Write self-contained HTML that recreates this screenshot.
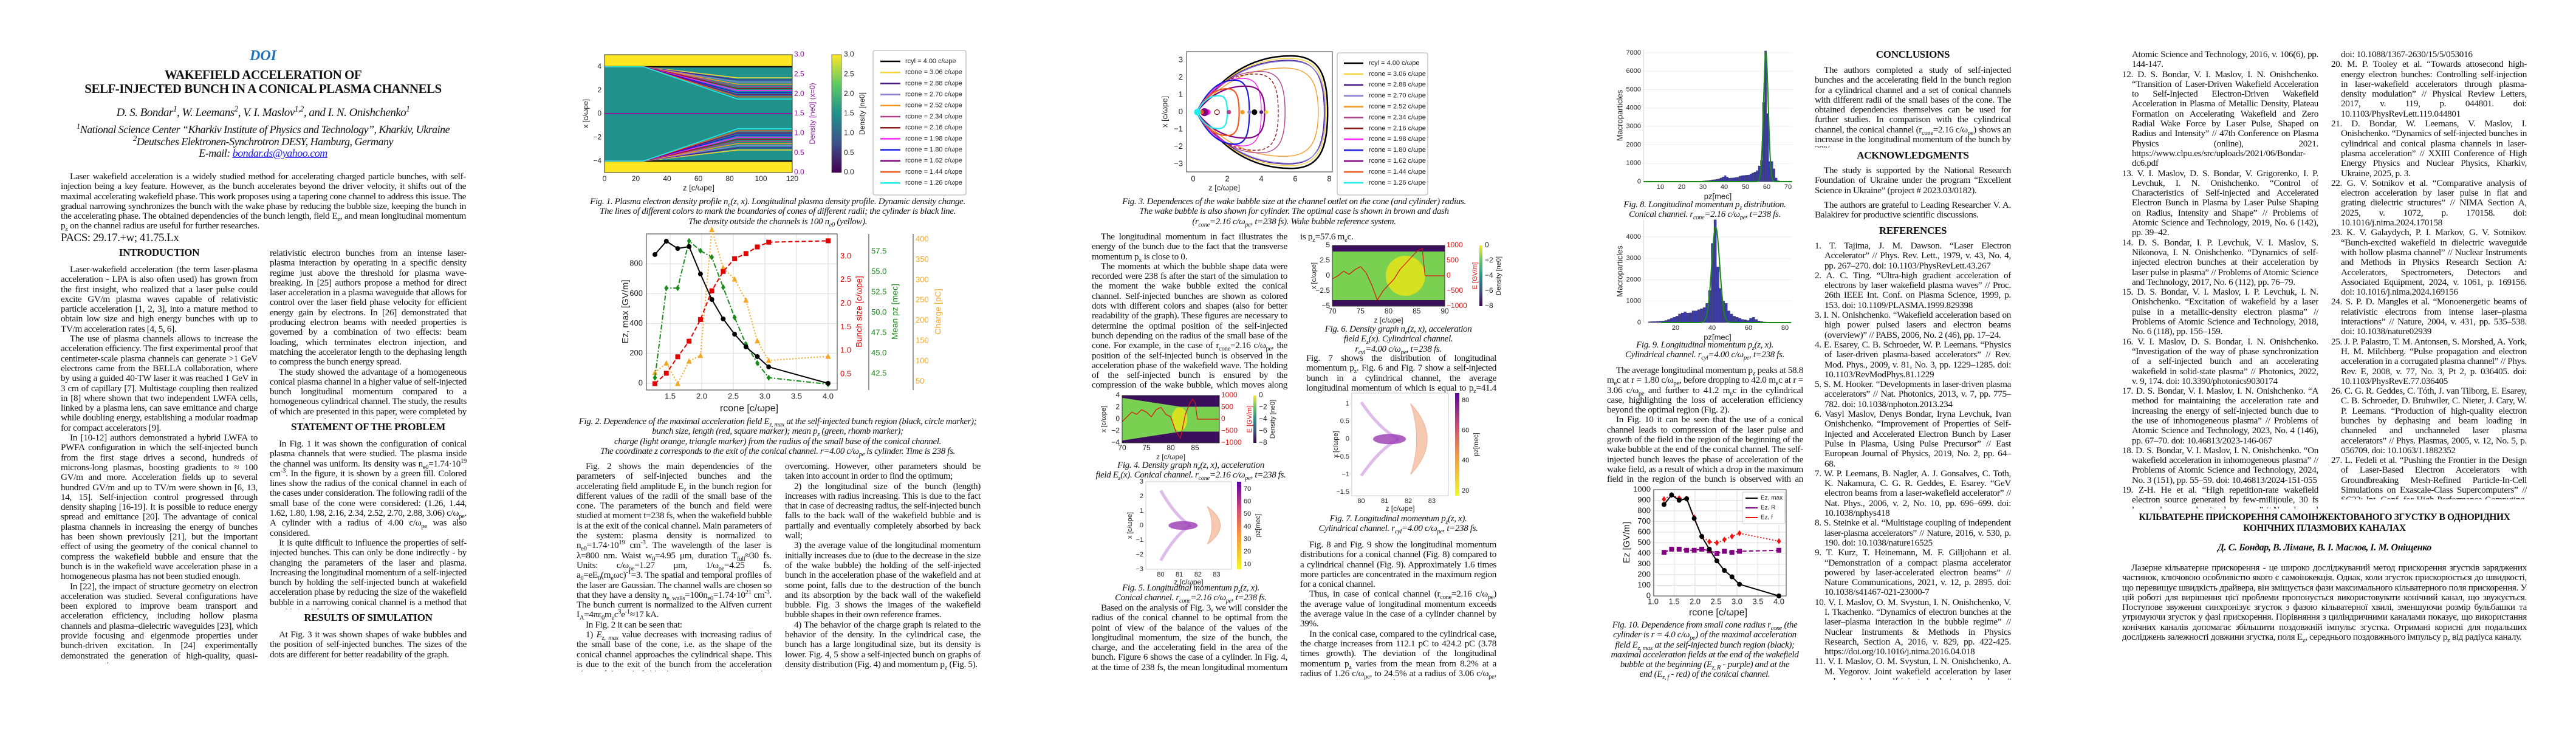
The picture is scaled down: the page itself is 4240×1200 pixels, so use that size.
<!DOCTYPE html>
<html><head><meta charset="utf-8">
<style>
html,body{margin:0;padding:0;background:#fff;}
body{width:4240px;height:1200px;position:relative;overflow:hidden;font-family:"Liberation Serif",serif;color:#111;}
.t{position:absolute;font-size:15.2px;line-height:16.3px;text-align:justify;letter-spacing:-0.33px;overflow:hidden;}
.t p{margin:0;text-indent:15px;}
.h{position:absolute;font-weight:bold;font-size:17px;text-align:center;letter-spacing:-0.3px;}
.cap{position:absolute;font-style:italic;font-size:15px;line-height:16.3px;text-align:center;letter-spacing:-0.35px;white-space:nowrap;}
.ref p{text-indent:-16px;padding-left:16px;}
sub,sup{font-size:70%;line-height:0;}
svg text{font-family:"Liberation Sans",sans-serif;}
</style></head><body>

<div style="position:absolute;left:233px;width:400px;top:79px;text-align:center;font-style:italic;font-weight:bold;font-size:24px;color:#1f6fb5;">DOI</div>
<div style="position:absolute;left:83px;width:700px;top:112px;text-align:center;font-weight:bold;font-size:21px;line-height:23px;letter-spacing:-0.5px;">WAKEFIELD ACCELERATION OF<br>SELF-INJECTED BUNCH IN A CONICAL PLASMA CHANNELS</div>
<div style="position:absolute;left:83px;width:700px;top:175px;text-align:center;font-style:italic;font-size:19px;letter-spacing:-0.5px;">D. S. Bondar<sup>1</sup>, W. Leemans<sup>2</sup>, V. I. Maslov<sup>1,2</sup>, and I. N. Onishchenko<sup>1</sup></div>
<div style="position:absolute;left:63px;width:740px;top:204px;text-align:center;font-style:italic;font-size:18px;line-height:19.5px;letter-spacing:-0.5px;"><sup>1</sup>National Science Center “Kharkiv Institute of Physics and Technology”, Kharkiv, Ukraine<br><sup>2</sup>Deutsches Elektronen-Synchrotron DESY, Hamburg, Germany<br>E-mail: <span style="color:#1a1aee;text-decoration:underline;">bondar.ds@yahoo.com</span></div>

<div class="t" style="left:100px;width:667px;top:283px;height:100px;"><p>Laser wakefield acceleration is a widely studied method for accelerating charged particle bunches, with self-injection being a key feature. However, as the bunch accelerates beyond the driver velocity, it shifts out of the maximal accelerating wakefield phase. This work proposes using a tapering cone channel to address this issue. The gradual narrowing synchronizes the bunch with the wake phase by reducing the bubble size, keeping the bunch in the accelerating phase. The obtained dependencies of the bunch length, field E<sub>z</sub>, and mean longitudinal momentum p<sub>z</sub> on the channel radius are useful for further researches.</p></div>
<div style="position:absolute;left:100px;top:381px;font-size:19px;letter-spacing:-0.5px;">PACS: 29.17.+w; 41.75.Lx</div>

<div class="h" style="left:100px;width:324px;top:406px;">INTRODUCTION</div>
<div class="t" style="left:100px;width:324px;top:436px;height:656px;">
<p>Laser-wakefield acceleration (the term laser-plasma acceleration - LPA is also often used) has grown from the first insight, who realized that a laser pulse could excite GV/m plasma waves capable of relativistic particle acceleration [1, 2, 3], into a mature method to obtain low size and high energy bunches with up to TV/m acceleration rates [4, 5, 6].</p>
<p>The use of plasma channels allows to increase the acceleration efficiency. The first experimental proof that centimeter-scale plasma channels can generate &gt;1 GeV electrons came from the BELLA collaboration, where by using a guided 40-TW laser it was reached 1 GeV in 3 cm of capillary [7]. Multistage coupling then realized in [8] where shown that two independent LWFA cells, linked by a plasma lens, can save emittance and charge while doubling energy, establishing a modular roadmap for compact accelerators [9].</p>
<p>In [10-12] authors demonstrated a hybrid LWFA to PWFA configuration in which the self-injected bunch from the first stage drives a second, hundreds of microns-long plasmas, boosting gradients to ≈ 100 GV/m and more. Acceleration fields up to several hundred GV/m and up to TV/m were shown in [6, 13, 14, 15]. Self-injection control progressed through density shaping [16-19]. It is possible to reduce energy spread and emittance [20]. The advantage of conical plasma channels in increasing the energy of bunches has been shown previously [21], but the important effect of using the geometry of the conical channel to compress the wakefield bubble and ensure that the bunch is in the wakefield wave acceleration phase in a homogeneous plasma has not been studied enough.</p>
<p>In [22], the impact of structure geometry on electron acceleration was studied. Several configurations have been explored to improve beam transport and acceleration efficiency, including hollow plasma channels and plasma–dielectric waveguides [23], which provide focusing and eigenmode properties under bunch-driven excitation. In [24] experimentally demonstrated the generation of high-quality, quasi-monoenergetic</p></div>

<div class="t" style="left:444px;width:324px;top:409px;height:280px;">
<p style="text-indent:0">relativistic electron bunches from an intense laser-plasma interaction by operating in a specific density regime just above the threshold for plasma wave-breaking. In [25] authors propose a method for direct laser acceleration in a plasma waveguide that allows for control over the laser field phase velocity for efficient energy gain by electrons. In [26] demonstrated that producing electron beams with needed properties is governed by a combination of two effects: beam loading, which terminates electron injection, and matching the accelerator length to the dephasing length to compress the bunch energy spread.</p>
<p>The study showed the advantage of a homogeneous conical plasma channel in a higher value of self-injected bunch longitudinal momentum compared to a homogeneous cylindrical channel. The study, the results of which are presented in this paper, were completed by numerical simulations using the code WarpX [27].</p></div>
<div class="h" style="left:444px;width:324px;top:693px;">STATEMENT OF THE PROBLEM</div>
<div class="t" style="left:444px;width:324px;top:723px;height:280px;">
<p>In Fig. 1 it was shown the configuration of conical plasma channels that were studied. The plasma inside the channel was uniform. Its density was n<sub>e0</sub>=1.74·10<sup>19</sup> cm<sup>-3</sup>. In the figure, it is shown by a green fill. Colored lines show the radius of the conical channel in each of the cases under consideration. The following radii of the small base of the cone were considered: (1.26, 1.44, 1.62, 1.80, 1.98, 2.16, 2.34, 2.52, 2.70, 2.88, 3.06) c/ω<sub>pe</sub>. A cylinder with a radius of 4.00 c/ω<sub>pe</sub> was also considered.</p>
<p>It is quite difficult to influence the properties of self-injected bunches. This can only be done indirectly - by changing the parameters of the laser and plasma. Increasing the longitudinal momentum of a self-injected bunch by holding the self-injected bunch at wakefield acceleration phase by reducing the size of the wakefield bubble in a narrowing conical channel is a method that would simplify the experiment.</p></div>
<div class="h" style="left:444px;width:324px;top:1007px;">RESULTS OF SIMULATION</div>
<div class="t" style="left:444px;width:324px;top:1037px;height:60px;">
<p>At Fig. 3 it was shown shapes of wake bubbles and the position of self-injected bunches. The sizes of the dots are different for better readability of the graph.</p></div>

<div class="cap" style="left:940px;width:680px;top:324px;">Fig. 1. Plasma electron density profile n<sub>e</sub>(z, x). Longitudinal plasma density profile. Dynamic density change.<br>The lines of different colors to mark the boundaries of cones of different radii; the cylinder is black line.<br>The density outside the channels is 100 n<sub>e0</sub> (yellow).</div>
<div class="cap" style="left:930px;width:700px;top:686px;">Fig. 2. Dependence of the maximal acceleration field E<sub>z, max</sub> at the self-injected bunch region (black, circle marker);<br>bunch size, length (red, square marker); mean p<sub>z</sub> (green, rhomb marker);<br>charge (light orange, triangle marker) from the radius of the small base of the conical channel.<br>The coordinate z corresponds to the exit of the conical channel. r=4.00 c/ω<sub>pe</sub> is cylinder. Time is 238 fs.</div>

<div class="t" style="left:949px;width:321px;top:760px;height:345px;">
<p>Fig. 2 shows the main dependencies of the parameters of self-injected bunches and the accelerating field amplitude E<sub>z</sub> in the bunch region for different values of the radii of the small base of the cone. The parameters of the bunch and field were studied at moment t=238 fs, when the wakefield bubble is at the exit of the conical channel. Main parameters of the system: plasma density is normalized to n<sub>e0</sub>=1.74·10<sup>19</sup> cm<sup>-3</sup>. The wavelength of the laser is λ=800 nm. Waist w<sub>0</sub>=4.95 μm, duration T<sub>full</sub>≈30 fs. Units: c/ω<sub>pe</sub>=1.27 μm, 1/ω<sub>pe</sub>=4.25 fs. a<sub>0</sub>=eE<sub>0</sub>(m<sub>e</sub>ωc)<sup>-1</sup>=3. The spatial and temporal profiles of the laser are Gaussian. The channel walls are chosen so that they have a density n<sub>e, walls</sub>=100n<sub>e0</sub>=1.74·10<sup>21</sup> cm<sup>-3</sup>. The bunch current is normalized to the Alfven current I<sub>A</sub>=4πε<sub>0</sub>m<sub>e</sub>c<sup>3</sup>e<sup>-1</sup>≈17 kA.</p>
<p>In Fig. 2 it can be seen that:</p>
<p>1) <i>E<sub>z, max</sub></i> value decreases with increasing radius of the small base of the cone, i.e. as the shape of the conical channel approaches the cylindrical shape. This is due to the exit of the bunch from the acceleration phase of the wakefield - the main negative process that we are</p></div>
<div class="t" style="left:1292px;width:322px;top:760px;height:345px;">
<p style="text-indent:0">overcoming. However, other parameters should be taken into account in order to find the optimum;</p>
<p>2) the longitudinal size of the bunch (length) increases with radius increasing. This is due to the fact that in case of decreasing radius, the self-injected bunch falls to the back wall of the wakefield bubble and is partially and eventually completely absorbed by back wall;</p>
<p>3) the average value of the longitudinal momentum initially increases due to (due to the decrease in the size of the wake bubble) the holding of the self-injected bunch in the acceleration phase of the wakefield and at some point, falls due to the destruction of the bunch and its absorption by the back wall of the wakefield bubble. Fig. 3 shows the images of the wakefield bubble shapes in their own reference frames.</p>
<p>4) The behavior of the charge graph is related to the behavior of the density. In the cylindrical case, the bunch has a large longitudinal size, but its density is lower. Fig. 4, 5 show a self-injected bunch on graphs of density distribution (Fig. 4) and momentum p<sub>z</sub> (Fig. 5).</p></div>

<div class="cap" style="left:1830px;width:600px;top:324px;">Fig. 3. Dependences of the wake bubble size at the channel outlet on the cone (and cylinder) radius.<br>The wake bubble is also shown for cylinder. The optimal case is shown in brown and dash<br>(r<sub>cone</sub>=2.16 c/ω<sub>pe</sub>, t=238 fs). Wake bubble reference system.</div>
<div class="t" style="left:1797px;width:322px;top:382px;height:262px;">
<p>The longitudinal momentum in fact illustrates the energy of the bunch due to the fact that the transverse momentum p<sub>x</sub> is close to 0.</p>
<p>The moments at which the bubble shape data were recorded were 238 fs after the start of the simulation to the moment the wake bubble exited the conical channel. Self-injected bunches are shown as colored dots with different colors and shapes (also for better readability of the graph). These figures are necessary to determine the optimal position of the self-injected bunch depending on the radius of the small base of the cone. For example, in the case of r<sub>cone</sub>=2.16 c/ω<sub>pe</sub>, the position of the self-injected bunch is observed in the acceleration phase of the wakefield wave. The holding of the self-injected bunch is ensured by the compression of the wake bubble, which moves along the conical channel.</p></div>
<div class="cap" style="left:1800px;width:320px;top:758px;">Fig. 4. Density graph n<sub>e</sub>(z, x), acceleration<br>field E<sub>z</sub>(x). Conical channel. r<sub>cone</sub>=2.16 c/ω<sub>pe</sub>, t=238 fs.</div>
<div class="cap" style="left:1800px;width:320px;top:960px;">Fig. 5. Longitudinal momentum p<sub>z</sub>(z, x).<br>Conical channel. r<sub>cone</sub>=2.16 c/ω<sub>pe</sub>, t=238 fs.</div>
<div class="t" style="left:1797px;width:322px;top:993px;height:115px;">
<p>Based on the analysis of Fig. 3, we will consider the radius of the conical channel to be optimal from the point of view of the balance of the values of the longitudinal momentum, the size of the bunch, the charge, and the accelerating field in the area of the bunch. Figure 6 shows the case of a cylinder. In Fig. 4, at the time of 238 fs, the mean longitudinal momentum of the self-injected bunch</p></div>

<div class="t" style="left:2140px;width:323px;top:382px;height:20px;"><p style="text-indent:0">is p<sub>z</sub>=57.6 m<sub>e</sub>c.</p></div>
<div class="cap" style="left:2140px;width:323px;top:534px;">Fig. 6. Density graph n<sub>e</sub>(z, x), acceleration<br>field E<sub>z</sub>(x). Cylindrical channel.<br>r<sub>cyl</sub>=4.00 c/ω<sub>pe</sub>, t=238 fs.</div>
<div class="t" style="left:2150px;width:313px;top:582px;height:66px;">
<p style="text-indent:0">Fig. 7 shows the distribution of longitudinal momentum p<sub>z</sub>. Fig. 6 and Fig. 7 show a self-injected bunch in a cylindrical channel, the average longitudinal momentum of which is equal to p<sub>z</sub>=41.4 m<sub>e</sub>c.</p></div>
<div class="cap" style="left:2140px;width:323px;top:846px;">Fig. 7. Longitudinal momentum p<sub>z</sub>(z, x).<br>Cylindrical channel. r<sub>cyl</sub>=4.00 c/ω<sub>pe</sub>, t=238 fs.</div>
<div class="t" style="left:2140px;width:323px;top:889px;height:230px;">
<p>Fig. 8 and Fig. 9 show the longitudinal momentum distributions for a conical channel (Fig. 8) compared to a cylindrical channel (Fig. 9). Approximately 1.6 times more particles are concentrated in the maximum region for a conical channel.</p>
<p>Thus, in case of conical channel (r<sub>cone</sub>=2.16 c/ω<sub>pe</sub>) the average value of longitudinal momentum exceeds the average value in the case of a cylinder channel by 39%.</p>
<p>In the conical case, compared to the cylindrical case, the charge increases from 112.1 pC to 424.2 pC (3.78 times growth). The deviation of the longitudinal momentum p<sub>z</sub> varies from the mean from 8.2% at a radius of 1.26 c/ω<sub>pe</sub>, to 24.5% at a radius of 3.06 c/ω<sub>pe</sub>, and to 21.2% in the case of a cylinder (r=4.00 c/ω<sub>pe</sub>).</p></div>

<div class="cap" style="left:2646px;width:320px;top:329px;">Fig. 8. Longitudinal momentum p<sub>z</sub> distribution.<br>Conical channel. r<sub>cone</sub>=2.16 c/ω<sub>pe</sub>, t=238 fs.</div>
<div class="cap" style="left:2646px;width:320px;top:560px;">Fig. 9. Longitudinal momentum p<sub>z</sub>(z, x).<br>Cylindrical channel. r<sub>cyl</sub>=4.00 c/ω<sub>pe</sub>, t=238 fs.</div>
<div class="t" style="left:2645px;width:323px;top:602px;height:196px;">
<p>The average longitudinal momentum p<sub>z</sub> peaks at 58.8 m<sub>e</sub>c at r = 1.80 c/ω<sub>pe</sub>, before dropping to 42.0 m<sub>e</sub>c at r = 3.06 c/ω<sub>pe</sub> and further to 41.2 m<sub>e</sub>c in the cylindrical case, highlighting the loss of acceleration efficiency beyond the optimal region (Fig. 2).</p>
<p>In Fig. 10 it can be seen that the use of a conical channel leads to compression of the laser pulse and growth of the field in the region of the beginning of the wake bubble at the end of the conical channel. The self-injected bunch leaves the phase of acceleration of the wake field, as a result of which a drop in the maximum field in the region of the bunch is observed with an increase in radius.</p></div>
<div class="cap" style="left:2636px;width:340px;top:1021px;">Fig. 10. Dependence from small cone radius r<sub>cone</sub> (the<br>cylinder is r = 4.0 c/ω<sub>pe</sub>) of the maximal acceleration<br>field E<sub>z, max</sub> at the self-injected bunch region (black);<br>maximal acceleration fields at the end of the wakefield<br>bubble at the beginning (E<sub>z, R</sub> - purple) and at the<br>end (E<sub>z, f</sub> - red) of the conical channel.</div>

<div class="h" style="left:2987px;width:323px;top:80px;">CONCLUSIONS</div>
<div class="t" style="left:2987px;width:323px;top:108px;height:135px;">
<p>The authors completed a study of self-injected bunches and the accelerating field in the bunch region for a cylindrical channel and a set of conical channels with different radii of the small bases of the cone. The obtained dependencies themselves can be used for further studies. In comparison with the cylindrical channel, the conical channel (r<sub>cone</sub>=2.16 c/ω<sub>pe</sub>) shows an increase in the longitudinal momentum of the bunch by 39%.</p></div>
<div class="h" style="left:2987px;width:323px;top:246px;">ACKNOWLEDGMENTS</div>
<div class="t" style="left:2987px;width:323px;top:273px;height:95px;">
<p>The study is supported by the National Research Foundation of Ukraine under the program “Excellent Science in Ukraine” (project # 2023.03/0182).</p>
<p style="margin-top:8px">The authors are grateful to Leading Researcher V. A. Balakirev for productive scientific discussions.</p></div>
<div class="h" style="left:2987px;width:323px;top:370px;">REFERENCES</div>
<div class="t ref" style="left:2987px;width:323px;top:397px;height:722px;">
<p>1. T. Tajima, J. M. Dawson. “Laser Electron Accelerator” // Phys. Rev. Lett., 1979, v. 43, No. 4, pp. 267–270. doi: 10.1103/PhysRevLett.43.267</p>
<p>2. A. C. Ting. “Ultra-high gradient acceleration of electrons by laser wakefield plasma waves” // Proc. 26th IEEE Int. Conf. on Plasma Science, 1999, p. 153. doi: 10.1109/PLASMA.1999.829398</p>
<p>3. I. N. Onishchenko. “Wakefield acceleration based on high power pulsed lasers and electron beams (overview)” // PABS, 2006, No. 2 (46), pp. 17–24.</p>
<p>4. E. Esarey, C. B. Schroeder, W. P. Leemans. “Physics of laser-driven plasma-based accelerators” // Rev. Mod. Phys., 2009, v. 81, No. 3, pp. 1229–1285. doi: 10.1103/RevModPhys.81.1229</p>
<p>5. S. M. Hooker. “Developments in laser-driven plasma accelerators” // Nat. Photonics, 2013, v. 7, pp. 775–782. doi: 10.1038/nphoton.2013.234</p>
<p>6. Vasyl Maslov, Denys Bondar, Iryna Levchuk, Ivan Onishchenko. “Improvement of Properties of Self-Injected and Accelerated Electron Bunch by Laser Pulse in Plasma, Using Pulse Precursor” // East European Journal of Physics, 2019, No. 2, pp. 64–68.</p>
<p>7. W. P. Leemans, B. Nagler, A. J. Gonsalves, C. Toth, K. Nakamura, C. G. R. Geddes, E. Esarey. “GeV electron beams from a laser-wakefield accelerator” // Nat. Phys., 2006, v. 2, No. 10, pp. 696–699. doi: 10.1038/nphys418</p>
<p>8. S. Steinke et al. “Multistage coupling of independent laser-plasma accelerators” // Nature, 2016, v. 530, p. 190. doi: 10.1038/nature16525</p>
<p>9. T. Kurz, T. Heinemann, M. F. Gilljohann et al. “Demonstration of a compact plasma accelerator powered by laser-accelerated electron beams” // Nature Communications, 2021, v. 12, p. 2895. doi: 10.1038/s41467-021-23000-7</p>
<p>10. V. I. Maslov, O. M. Svystun, I. N. Onishchenko, V. I. Tkachenko. “Dynamics of electron bunches at the laser–plasma interaction in the bubble regime” // Nuclear Instruments &amp; Methods in Physics Research, Section A, 2016, v. 829, pp. 422-425. https://doi.org/10.1016/j.nima.2016.04.018</p>
<p>11. V. I. Maslov, O. M. Svystun, I. N. Onishchenko, A. M. Yegorov. Joint wakefield acceleration by laser pulse and by self-injected electron bunches // Problems of</p></div>
<div class="t ref" style="left:3493px;width:323px;top:82px;height:755px;">
<p style="text-indent:0">Atomic Science and Technology, 2016, v. 106(6), pp. 144-147.</p>
<p>12. D. S. Bondar, V. I. Maslov, I. N. Onishchenko. “Transition of Laser-Driven Wakefield Acceleration to Self-Injected Electron-Driven Wakefield Acceleration in Plasma of Metallic Density, Plateau Formation on Accelerating Wakefield and Zero Radial Wake Force by Laser Pulse, Shaped on Radius and Intensity” // 47th Conference on Plasma Physics (online), 2021. https://www.clpu.es/src/uploads/2021/06/Bondar-dc6.pdf</p>
<p>13. V. I. Maslov, D. S. Bondar, V. Grigorenko, I. P. Levchuk, I. N. Onishchenko. “Control of Characteristics of Self-injected and Accelerated Electron Bunch in Plasma by Laser Pulse Shaping on Radius, Intensity and Shape” // Problems of Atomic Science and Technology, 2019, No. 6 (142), pp. 39–42.</p>
<p>14. D. S. Bondar, I. P. Levchuk, V. I. Maslov, S. Nikonova, I. N. Onishchenko. “Dynamics of self-injected electron bunches at their acceleration by laser pulse in plasma” // Problems of Atomic Science and Technology, 2017, No. 6 (112), pp. 76–79.</p>
<p>15. D. S. Bondar, V. I. Maslov, I. P. Levchuk, I. N. Onishchenko. “Excitation of wakefield by a laser pulse in a metallic-density electron plasma” // Problems of Atomic Science and Technology, 2018, No. 6 (118), pp. 156–159.</p>
<p>16. V. I. Maslov, D. S. Bondar, I. N. Onishchenko. “Investigation of the way of phase synchronization of a self-injected bunch and an accelerating wakefield in solid-state plasma” // Photonics, 2022, v. 9, 174. doi: 10.3390/photonics9030174</p>
<p>17. D. S. Bondar, V. I. Maslov, I. N. Onishchenko. “A method for maintaining the acceleration rate and increasing the energy of self-injected bunch due to the use of inhomogeneous plasma” // Problems of Atomic Science and Technology, 2023, No. 4 (146), pp. 67–70. doi: 10.46813/2023-146-067</p>
<p>18. D. S. Bondar, V. I. Maslov, I. N. Onishchenko. “On wakefield acceleration in inhomogeneous plasma” // Problems of Atomic Science and Technology, 2024, No. 3 (151), pp. 55–59. doi: 10.46813/2024-151-055</p>
<p>19. Z-H. He et al. “High repetition-rate wakefield electron source generated by few-millijoule, 30 fs laser pulses on a density downramp” // New Journal of Physics, 2013, v. 15, p. 053016.</p></div>
<div class="t ref" style="left:3837px;width:322px;top:82px;height:740px;">
<p style="text-indent:0">doi: 10.1088/1367-2630/15/5/053016</p>
<p>20. M. P. Tooley et al. “Towards attosecond high-energy electron bunches: Controlling self-injection in laser-wakefield accelerators through plasma-density modulation” // Physical Review Letters, 2017, v. 119, p. 044801. doi: 10.1103/PhysRevLett.119.044801</p>
<p>21. D. Bondar, W. Leemans, V. Maslov, I. Onishchenko. “Dynamics of self-injected bunches in cylindrical and conical plasma channels in laser-plasma acceleration” // XXIII Conference of High Energy Physics and Nuclear Physics, Kharkiv, Ukraine, 2025, p. 3.</p>
<p>22. G. V. Sotnikov et al. “Comparative analysis of electron acceleration by laser pulse in flat and grating dielectric structures” // NIMA Section A, 2025, v. 1072, p. 170158. doi: 10.1016/j.nima.2024.170158</p>
<p>23. K. V. Galaydych, P. I. Markov, G. V. Sotnikov. “Bunch-excited wakefield in dielectric waveguide with hollow plasma channel” // Nuclear Instruments and Methods in Physics Research Section A: Accelerators, Spectrometers, Detectors and Associated Equipment, 2024, v. 1061, p. 169156. doi: 10.1016/j.nima.2024.169156</p>
<p>24. S. P. D. Mangles et al. “Monoenergetic beams of relativistic electrons from intense laser–plasma interactions” // Nature, 2004, v. 431, pp. 535–538. doi: 10.1038/nature02939</p>
<p>25. J. P. Palastro, T. M. Antonsen, S. Morshed, A. York, H. M. Milchberg. “Pulse propagation and electron acceleration in a corrugated plasma channel” // Phys. Rev. E, 2008, v. 77, No. 3, Pt 2, p. 036405. doi: 10.1103/PhysRevE.77.036405</p>
<p>26. C. G. R. Geddes, C. Tóth, J. van Tilborg, E. Esarey, C. B. Schroeder, D. Bruhwiler, C. Nieter, J. Cary, W. P. Leemans. “Production of high-quality electron bunches by dephasing and beam loading in channeled and unchanneled laser plasma accelerators” // Phys. Plasmas, 2005, v. 12, No. 5, p. 056709. doi: 10.1063/1.1882352</p>
<p>27. L. Fedeli et al. “Pushing the Frontier in the Design of Laser-Based Electron Accelerators with Groundbreaking Mesh-Refined Particle-In-Cell Simulations on Exascale-Class Supercomputers” // SC22: Int. Conf. for High Performance Computing, Networking, Storage and Analysis, Dallas, TX, USA, 2022, pp. 25–36. doi: 10.1109/SC41404.2022.00008</p></div>

<div style="position:absolute;left:3493px;width:666px;top:843px;text-align:center;font-weight:bold;font-size:15.5px;line-height:18px;letter-spacing:-0.4px;font-family:'Liberation Serif','Noto Serif CJK SC',serif;">КІЛЬВАТЕРНЕ ПРИСКОРЕННЯ САМОІНЖЕКТОВАНОГО ЗГУСТКУ В ОДНОРІДНИХ<br>КОНІЧНИХ ПЛАЗМОВИХ КАНАЛАХ</div>
<div style="position:absolute;left:3493px;width:666px;top:893px;text-align:center;font-weight:bold;font-style:italic;font-size:16px;letter-spacing:-0.4px;">Д. С. Бондар, В. Лімане, В. І. Маслов, І. М. Оніщенко</div>
<div class="t" style="left:3493px;width:666px;top:927px;height:135px;">
<p>Лазерне кільватерне прискорення - це широко досліджуваний метод прискорення згустків заряджених частинок, ключовою особливістю якого є самоінжекція. Однак, коли згусток прискорюється до швидкості, що перевищує швидкість драйвера, він зміщується фази максимального кільватерного поля прискорення. У цій роботі для вирішення цієї проблеми пропонується використовувати конічний канал, що звужується. Поступове звуження синхронізує згусток з фазою кільватерної хвилі, зменшуючи розмір бульбашки та утримуючи згусток у фазі прискорення. Порівняння з циліндричними каналами показує, що використання конічних каналів допомагає збільшити поздовжній імпульс згустка. Отримані корисні для подальших досліджень залежності довжини згустка, поля E<sub>z</sub>, середнього поздовжнього імпульсу p<sub>z</sub> від радіуса каналу.</p></div>

<svg id="figs" width="4240" height="1200" style="position:absolute;left:0;top:0;" xmlns="http://www.w3.org/2000/svg"></svg>

<script>
// ---------- data ----------
const f2R=[1.26,1.44,1.62,1.80,1.98,2.16,2.34,2.52,2.70,2.88,3.06,4.00];
const f2Ez=[862,951,902,915,732,561,431,329,244,179,110,0];
const f2Size=[0.30,0.52,0.87,1.20,1.66,2.27,2.68,2.95,3.06,3.20,3.30,3.33];
const f2Pz=[42.0,53.0,53.0,58.8,57.6,56.8,53.1,49.4,46.1,43.8,42.0,41.2];
const f2Charge=[72,95,45,100,114,424,330,302,250,150,102,112];
const f2XTicks=[1.5,2.0,2.5,3.0,3.5,4.0];
const f2EzTicks=[0,200,400,600,800];
const f2SizeTicks=[0.5,1.0,1.5,2.0,2.5,3.0];
const f2PzTicks=[42.5,45.0,47.5,50.0,52.5,55.0,57.5];
const f2ChargeTicks=[50,100,150,200,250,300,350,400];

const f10R=[1.26,1.44,1.62,1.80,1.98,2.16,2.34,2.52,2.70,2.88,3.06,4.00];
const f10Emax=[860,950,900,915,730,560,440,330,240,180,110,0];
const f10ER=[410,440,440,430,430,440,425,400,420,410,420,430];
const f10Ef=[910,950,920,915,740,560,510,500,530,560,590,515];
const f10XTicks=[1.0,1.5,2.0,2.5,3.0,3.5,4.0];
const f10YTicks=[0,100,200,300,400,500,600,700,800,900,1000];

const f8BinStart=[26,27,28,29,30,31,32,33,34,35,36,37,38,39,40,41,42,43,44,45,46,47,48,49,50,51,52,53,54,55,56,57,58,59,60,61,62,63,64,65];
const f8Counts=[10,15,20,30,40,50,60,80,100,110,130,150,200,260,330,250,190,200,210,230,240,300,330,340,350,360,420,470,520,600,850,1150,4300,7100,3700,1100,1100,700,200,50];
const f8Fit=[7000,59.6,1.1];
const f8XTicks=[10,20,30,40,50,60,70];
const f8YTicks=[0,1000,2000,3000,4000,5000,6000,7000];

const f9BinStart=[5,6.5,8,9.5,11,12.5,14,15.5,17,18.5,20,21.5,23,24.5,26,27.5,29,30.5,32,33.5,35,36.5,38,39.5,41,42.5,44,45.5,47,48.5,50,51.5,53,54.5,56,57.5,59,60.5,62,63.5,65,66.5,68,69.5];
const f9Counts=[40,50,50,60,70,80,100,150,200,250,300,400,450,500,450,460,550,550,600,650,700,900,1500,3700,4800,2600,1600,1000,900,550,400,300,250,200,150,130,100,200,250,150,80,50,30,20];
const f9Fit=[4450,42.0,2.2];
const f9XTicks=[20,40,60,80];
const f9YTicks=[0,1000,2000,3000,4000];

const f1Radii=[4.00,3.06,2.88,2.70,2.52,2.34,2.16,1.98,1.80,1.62,1.44,1.26];
const f1ConeStart=25, f1ConeEnd=85, f1ZMax=120;
const f1AxisDensity=1.5;
const f1XTicks=[0,20,40,60,80,100,120];
const f1YTicks=[-4,-2,0,2,4];
const f1DensTicks=[0.0,0.5,1.0,1.5,2.0,2.5,3.0];
const lineColors=["#000000","#f7d53a","#4b1a8c","#8a7fd6","#f59a23","#b0408a","#8b1a1a","#ff22ff","#1a1adb","#800080","#f05a1e","#22eeee"];

const f3Len=[7.9,7.8,7.7,7.75,7.35,5.4,5.0,4.0,3.3,4.2,2.7,2.0];
const f3Half=[3.25,3.1,3.0,2.95,2.55,2.35,2.2,1.95,1.85,1.5,1.35,0.95];
const f3Dot=[3.6,4.3,4.0,3.3,2.9,2.1,1.4,0.86,0.6,0.66,0.5,0.25];
const f3XTicks=[0,2,4,6,8];
const f3YTicks=[-3,-2,-1,0,1,2,3];

const f4Z=[70,71,72,73,74,75,76,77,78,79,80,80.5,81,82,83,84,84.5,85,85.5,86,87,88,90];
const f4E=[-100,100,300,200,400,300,100,400,500,200,100,-200,-500,-800,200,700,850,700,0,0,0,0,0];
const f6Z=[70,71,72,73,74,75,76,77,78,79,80,81,82,83,84,85,86,86.5,87,88,90];
const f6E=[-100,0,150,50,200,300,100,-300,-800,-500,-300,-100,200,400,600,800,900,0,0,0,0];

// ---------- helpers ----------
const NS='http://www.w3.org/2000/svg';
const S=document.getElementById('figs');
function mk(tag,a,p){const e=document.createElementNS(NS,tag);for(const k in a)e.setAttribute(k,a[k]);(p||S).appendChild(e);return e;}
function tx(x,y,s,size,anchor,fill,rot){const e=mk('text',{x:x,y:y,'font-size':size||12,'text-anchor':anchor||'middle',fill:fill||'#222','dominant-baseline':'middle'});if(rot)e.setAttribute('transform','rotate('+rot+' '+x+' '+y+')');e.textContent=s;return e;}
function pl(pts){return pts.map(p=>p[0].toFixed(1)+','+p[1].toFixed(1)).join(' ');}
function axesBox(x0,y0,x1,y1){return mk('rect',{x:x0,y:y0,width:x1-x0,height:y1-y0,fill:'none',stroke:'#333','stroke-width':1});}

const defs=mk('defs',{});
const vg=mk('linearGradient',{id:'viridis',x1:0,y1:1,x2:0,y2:0},defs);
[['0','#440154'],['0.25','#3b528b'],['0.5','#21918c'],['0.75','#5ec962'],['1','#fde725']].forEach(s=>mk('stop',{offset:s[0],'stop-color':s[1]},vg));
const pg=mk('linearGradient',{id:'plasma',x1:0,y1:1,x2:0,y2:0},defs);
[['0','#f0f921'],['0.4','#f89540'],['0.7','#cc4778'],['1','#5c01a6']].forEach(s=>mk('stop',{offset:s[0],'stop-color':s[1]},pg));

// ---------- Fig 1 ----------
{
const X=z=>995+z*2.575, Y=x=>187.5-x*19.4;
const bg=mk('rect',{x:995,y:90,width:309,height:194,fill:'#fde725'});


const ch=mk('rect',{x:995,y:Y(4),width:309,height:Y(-4)-Y(4),fill:'#21918c'});


f1Radii.forEach((r,i)=>{
  [1,-1].forEach(sg=>{
    const pts=i===0?[[X(0),Y(4*sg)],[X(f1ZMax),Y(4*sg)]]:[[X(0),Y(4*sg)],[X(f1ConeStart),Y(4*sg)],[X(f1ConeEnd),Y(r*sg)],[X(f1ZMax),Y(r*sg)]];
    const l=mk('polyline',{points:pl(pts),fill:'none',stroke:lineColors[i],'stroke-width':i===0?2.2:1.6});
    
    
  });
});
const DY=d=>284-d*64.67;
const dl=mk('line',{x1:995,x2:1304,y1:DY(f1AxisDensity),y2:DY(f1AxisDensity),stroke:'#8b1a9b','stroke-width':2});


axesBox(995,90,1304,284);
f1XTicks.forEach(v=>{tx(X(v),295,String(v),12);});
f1YTicks.forEach(v=>{tx(990,Y(v),String(v).replace('-','−'),12,'end');});
f1DensTicks.forEach(v=>{tx(1307,DY(v),v.toFixed(1),12,'start','#8b1a9b');});
tx(965,187,'x [c/ωpe]',12,'middle','#222',-90);
tx(1150,310,'z [c/ωpe]',13);
tx(1338,187,'Density [ne0] (x=0)',12,'middle','#8b1a9b',-90);
const cb=mk('rect',{x:1369,y:90,width:16,height:194,fill:'url(#viridis)',stroke:'#333','stroke-width':0.6});


f1DensTicks.forEach(v=>{tx(1389,DY(v),v.toFixed(1),12,'start');});
tx(1420,187,'Density [ne0]',12,'middle','#222',-90);
const lg=mk('rect',{x:1437,y:83,width:153,height:238,fill:'#fff',stroke:'#aaa','stroke-width':1,rx:3});


f1Radii.forEach((r,i)=>{const y=101+i*18.2;
  const s=mk('line',{x1:1449,x2:1482,y1:y,y2:y,stroke:lineColors[i],'stroke-width':2.5});
  
  
  tx(1490,y,(i===0?'rcyl':'rcone')+' = '+r.toFixed(2)+' c/ωpe',11,'start');});
}

// ---------- Fig 2 ----------
{
const X=v=>1103+(v-1.5)*104, YE=v=>631-v*0.246, YS=v=>422+(3-v)*77.6, YP=v=>414+(57.5-v)*13.4, YC=v=>394+(400-v)*0.6686;
f2XTicks.forEach(v=>{mk('line',{x1:X(v),x2:X(v),y1:385,y2:642,stroke:'#ddd'});tx(X(v),653,v.toFixed(1),13);});
f2EzTicks.forEach(v=>{mk('line',{x1:1064,x2:1378,y1:YE(v),y2:YE(v),stroke:'#ddd'});tx(1058,YE(v),String(v),13,'end');});
axesBox(1064,385,1378,642);
mk('line',{x1:1430,x2:1430,y1:385,y2:642,stroke:'#333'});
mk('line',{x1:1503,x2:1503,y1:385,y2:642,stroke:'#333'});
f2SizeTicks.forEach(v=>tx(1383,YS(v),v.toFixed(1),13,'start','#e00000'));
f2PzTicks.forEach(v=>tx(1434,YP(v),v.toFixed(1),13,'start','#1a8a1a'));
f2ChargeTicks.forEach(v=>tx(1507,YC(v),String(v),13,'start','#f5a623'));
tx(1030,513,'Ez, max [GV/m]',15,'middle','#222',-90);
tx(1415,513,'Bunch size [c/ωpe]',14,'middle','#e00000',-90);
tx(1474,513,'Mean pz [mec]',14,'middle','#1a8a1a',-90);
tx(1545,513,'Charge [pC]',14,'middle','#f5a623',-90);
tx(1233,673,'rcone [c/ωpe]',16);
function series(vals,Yf,col,dash,name,marker){
  const ln=mk('polyline',{points:pl(f2R.map((r,i)=>[X(r),Yf(vals[i])])),fill:'none',stroke:col,'stroke-width':2,'stroke-dasharray':dash});
  
  
  f2R.forEach((r,i)=>{const x=X(r),y=Yf(vals[i]);let m;
    if(marker==='c')m=mk('circle',{cx:x,cy:y,r:4,fill:col});
    else if(marker==='s')m=mk('rect',{x:x-4,y:y-4,width:8,height:8,fill:col});
    else if(marker==='d')m=mk('polygon',{points:pl([[x,y-5],[x+3.5,y],[x,y+5],[x-3.5,y]]),fill:col});
    else m=mk('polygon',{points:pl([[x,y-5],[x+4.5,y+4],[x-4.5,y+4]]),fill:col});
    
    });
}
series(f2Charge,YC,'#f5a623','2,3','fig2-charge','t');
series(f2Pz,YP,'#1a8a1a','8,3,2,3','fig2-mean-pz','d');
series(f2Size,YS,'#e00000','7,4','fig2-bunch-size','s');
series(f2Ez,YE,'#000','','fig2-ez-max','c');
}

// ---------- Fig 3 ----------
{
const X=z=>1964+z*28, Y=x=>184.6-x*28.5;
mk('rect',{x:1953,y:85,width:240,height:198,fill:'#fff'});
const clip=mk('clipPath',{id:'c3'},defs);mk('rect',{x:1953,y:85,width:240,height:198},clip);
const g=mk('g',{'clip-path':'url(#c3)'});
f3Len.forEach((L,i)=>{const h=f3Half[i],z0=0.2,zw=z0+0.72*(L-z0);
  const P=(z,x)=>X(z).toFixed(1)+','+Y(x).toFixed(1);
  const d='M'+P(z0,0)+' C'+P(z0+0.25*(zw-z0),0.6*h)+' '+P(z0+0.55*(zw-z0),h)+' '+P(zw,h)+' C'+P(zw+0.75*(L-zw),h)+' '+P(L,0.7*h)+' '+P(L,0)+' C'+P(L,-0.7*h)+' '+P(zw+0.75*(L-zw),-h)+' '+P(zw,-h)+' C'+P(z0+0.55*(zw-z0),-h)+' '+P(z0+0.25*(zw-z0),-0.6*h)+' '+P(z0,0)+'Z';
  const b=mk('path',{d:d,fill:'none',stroke:lineColors[i],'stroke-width':i===0?2.5:(i>=8?2.2:1.4),'stroke-dasharray':i===6?'5,3':''},g);
  
  
});
f3Dot.forEach((z,i)=>{const d=mk('circle',{cx:X(z),cy:Y(0),r:[4,2.5,2.5,2.5,3,3,4,4,3,6,3,5][i],fill:i===6?'#fff':lineColors[i],stroke:lineColors[i],'stroke-width':1.2},g);
  
  });
axesBox(1953,85,2193,283);
f3XTicks.forEach(v=>tx(X(v),295,String(v),13));
f3YTicks.forEach(v=>tx(1947,Y(v),String(v).replace('-','−'),13,'end'));
tx(1918,184,'x [c/ωpe]',13,'middle','#222',-90);
tx(2015,310,'z [c/ωpe]',13);
const lg=mk('rect',{x:2201,y:87,width:149,height:234,fill:'#fff',stroke:'#aaa',rx:3});


f3Len.forEach((L,i)=>{const y=104+i*17.9;
  const s=mk('line',{x1:2212,x2:2244,y1:y,y2:y,stroke:lineColors[i],'stroke-width':2.5});
  
  
  tx(2253,y,(i===0?'rcyl':'rcone')+' = '+f1Radii[i].toFixed(2)+' c/ωpe',11,'start');});
}

// ---------- Fig 4 & 6 ----------
function densityMap(id,x0,x1,y0,y1,zA,zB,yDom,Zarr,Earr,eMax,cone,ticksX,ticksY,eTicks,cbx){
  const X=z=>x0+(z-zA)/(zB-zA)*(x1-x0), Y=x=>y0+(yDom-x)/(2*yDom)*(y1-y0), YE=e=>(y0+y1)/2-e/eMax*(y1-y0)/2;
  const bg=mk('rect',{x:x0,y:y0,width:x1-x0,height:y1-y0,fill:'#3b0f5c'});
  
  
  const poly=cone?[[70,3.6],[82,2.1],[90,2.1],[90,-2.1],[82,-2.1],[70,-3.6]]:[[70,4],[90,4],[90,-4],[70,-4]];
  const ch=mk('polygon',{points:pl(poly.map(p=>[X(p[0]),Y(p[1])])),fill:'#7ad151'});
  
  
  const yb=mk('ellipse',{cx:X(cone?81.8:83),cy:Y(0),rx:(cone?1.6:3.5)*(x1-x0)/20,ry:(cone?2.0:3.3)*(y1-y0)/(2*yDom),fill:'#e6e419',opacity:0.85});
  
  
  const ln=mk('polyline',{points:pl(Zarr.map((z,i)=>[X(z),YE(Earr[i])])),fill:'none',stroke:'#dd1010','stroke-width':1.2});
  
  
  axesBox(x0,y0,x1,y1);
  ticksX.forEach(v=>tx(X(v),y1+9,String(v),12));
  ticksY.forEach(v=>tx(x0-4,Y(v),String(v).replace('-','−'),12,'end'));
  eTicks.forEach(v=>tx(x1+3,YE(v),String(v).replace('-','−'),12,'start','#dd1010'));
  const cb=mk('rect',{x:cbx,y:y0,width:5,height:y1-y0,fill:'url(#viridis)'});
  
  
  [0,-2,-4,-6,-8].forEach((v,k)=>tx(cbx+9,y0+k*(y1-y0)/4,String(v).replace('-','−'),12,'start'));
  tx(cbx+32,(y0+y1)/2,'Density [ne0]',11,'middle','#222',-90);
  tx(x1+50,(y0+y1)/2,'E [GV/m]',11,'middle','#dd1010',-90);
  tx(x0-30,(y0+y1)/2,'x [c/ωpe]',11,'middle','#222',-90);
  tx((x0+x1)/2,y1+24,'z [c/ωpe]',12);
}
densityMap('fig4',1847,2007,651,729,70,90,4,f4Z,f4E,1000,true,[70,75,80,85],[-4,-2,0,2,4],[1000,500,0,-500,-1000],2063);
densityMap('fig6',2193,2378,404,504,70,90,5,f6Z,f6E,1000,false,[70,75,80,85,90],[-5.0,-2.5,0.0,2.5,5.0],[1000,500,0,-500,-1000],2435);

// ---------- Fig 5 & 7 ----------
function scatterFig(id,x0,x1,y0,y1,zA,zB,xTop,xBot,tz,ty,cbx,cbTicks,arcZ,arcR){
  const X=z=>x0+(z-zA)/(zB-zA)*(x1-x0), Y=x=>y0+(xTop-x)/(xTop-xBot)*(y1-y0);
  mk('rect',{x:x0,y:y0,width:x1-x0,height:y1-y0,fill:'#fff',stroke:'#ccc'});
  const core=mk('ellipse',{cx:X(81.2),cy:Y(0),rx:(x1-x0)*0.17,ry:(y1-y0)*0.05,fill:'#8a1fa8',opacity:0.7});
  
  
  [1,-1].forEach(s=>{
    const w=mk('path',{d:'M'+X(80)+','+Y(s*xTop*0.8)+' Q'+X(80.8)+','+Y(s*xTop*0.2)+' '+X(81.6)+','+Y(0),fill:'none',stroke:'#a040c0','stroke-width':5,opacity:0.35});
    
    });
  const a=mk('path',{d:'M'+X(arcZ)+','+Y(arcR)+' Q'+X(arcZ+1.4)+','+Y(0)+' '+X(arcZ)+','+Y(-arcR)+' Q'+X(arcZ+0.5)+','+Y(0)+' '+X(arcZ)+','+Y(arcR)+'Z',fill:'#f0a070',opacity:0.55,stroke:'#e07050','stroke-width':1});
  
  
  tz.forEach(v=>tx(X(v),y1+9,String(v),11));
  ty.forEach(v=>tx(x0-4,Y(v),String(v).replace('-','−'),11,'end'));
  const cb=mk('rect',{x:cbx,y:y0,width:7,height:y1-y0,fill:'url(#plasma)'});
  
  
  cbTicks.forEach((v,k)=>tx(cbx+11,y0+12+k*(y1-y0-20)/(cbTicks.length-1),String(v),11,'start'));
  tx(cbx+35,(y0+y1)/2,'pz[mec]',11,'middle','#222',-90);
  tx(x0-26,(y0+y1)/2,'x [c/ωpe]',11,'middle','#222',-90);
  tx((x0+x1)/2,y1+22,'z [c/ωpe]',12);
}
scatterFig('fig5',1886,2027,793,937,79.2,83.8,3,-3,[80,81,82,83],[-3,-2,-1,0,1,2,3],2036,[70,60,50,40,30,20,10],82.5,1.3);
scatterFig('fig7',2225,2384,647,816,79.6,83.7,1.3,-1.6,[80,81,82,83],[-1.5,-1.0,-0.5,0.0,0.5,1.0],2395,[80,60,40,20],82.1,1.0);

// ---------- Histograms ----------
function hist(id,x0,x1,y0,y1,X,Y,bins,counts,bw,fit,xt,yt){
  mk('rect',{x:x0,y:y0,width:x1-x0,height:y1-y0,fill:'#fff'});
  yt.forEach(v=>mk('line',{x1:x0,x2:x1,y1:Y(v),y2:Y(v),stroke:'#eee'}));
  bins.forEach((b,i)=>{const r=mk('rect',{x:X(b),y:Y(counts[i]),width:Math.max(0.5,X(b+bw)-X(b)-0.3),height:Y(0)-Y(counts[i]),fill:'#3c3ca8',stroke:'#222','stroke-width':0.3});
    
    });
  const pts=[];for(let k=0;k<=300;k++){const v=xt[0]-8+k*(xt[xt.length-1]-xt[0]+16)/300;pts.push([X(v),Y(fit[0]*Math.exp(-0.5*Math.pow((v-fit[1])/fit[2],2)))]);}
  const f=mk('polyline',{points:pl(pts.filter(p=>p[0]>=x0&&p[0]<=x1)),fill:'none',stroke:'#1a8a1a','stroke-width':2});
  
  
  mk('line',{x1:x0,x2:x0,y1:y0,y2:y1,stroke:'#ccc'});
  xt.forEach(v=>tx(X(v),y1+9,String(v),11));
  yt.forEach(v=>tx(x0-4,Y(v),String(v),11,'end'));
  tx(x0-38,(y0+y1)/2,'Macroparticles',13,'middle','#222',-90);
  tx((x0+x1)/2,y1+25,'pz[mec]',13);
}
hist('fig8',2705,2950,81,299,v=>2733+(v-10)*3.5,v=>299-v*0.0303,f8BinStart,f8Counts,1,f8Fit,f8XTicks,f8YTicks);
hist('fig9',2705,2949,362,531,v=>2758+(v-20)*3.0,v=>531-v*0.03525,f9BinStart,f9Counts,1.5,f9Fit,f9XTicks,f9YTicks);

// ---------- Fig 10 ----------
{
const X=v=>2721+(v-1)*69, Y=v=>981-v*0.175;
mk('rect',{x:2722,y:806,width:218,height:175,fill:'#fff'});
f10XTicks.forEach(v=>{mk('line',{x1:X(v),x2:X(v),y1:806,y2:981,stroke:'#ddd'});tx(X(v),991,v.toFixed(1),13);});
f10YTicks.forEach(v=>{mk('line',{x1:2722,x2:2940,y1:Y(v),y2:Y(v),stroke:'#ddd'});tx(2717,Y(v),String(v),13,'end');});
axesBox(2722,806,2940,981);
tx(2678,893,'Ez [GV/m]',15,'middle','#222',-90);
tx(2828,1009,'rcone [c/ωpe]',16);
function s10(vals,col,dash,name,marker){
  const ln=mk('polyline',{points:pl(f10R.map((r,i)=>[X(r),Y(vals[i])])),fill:'none',stroke:col,'stroke-width':2,'stroke-dasharray':dash});
  
  
  f10R.forEach((r,i)=>{const x=X(r),y=Y(vals[i]);let m;
    if(marker==='c')m=mk('circle',{cx:x,cy:y,r:4,fill:col});
    else if(marker==='s')m=mk('rect',{x:x-4,y:y-4,width:8,height:8,fill:col});
    else m=mk('polygon',{points:pl([[x,y-5],[x+3.5,y],[x,y+5],[x-3.5,y]]),fill:col});
    
    });
}
s10(f10ER,'#800080','7,4','fig10-ez-r','s');
s10(f10Ef,'#ee1111','2,3','fig10-ez-f','d');
s10(f10Emax,'#000','','fig10-ez-max','c');
const lg=mk('rect',{x:2868,y:810,width:70,height:52,fill:'#fff',stroke:'#ccc',rx:2});


[['Ez, max','#000'],['Ez, R','#800080'],['Ez, f','#ee1111']].forEach((e,k)=>{const y=820+k*16;
  const s=mk('line',{x1:2873,x2:2893,y1:y,y2:y,stroke:e[1],'stroke-width':2});
  
  
  tx(2898,y,e[0],10,'start');});
}
</script>
</body></html>
